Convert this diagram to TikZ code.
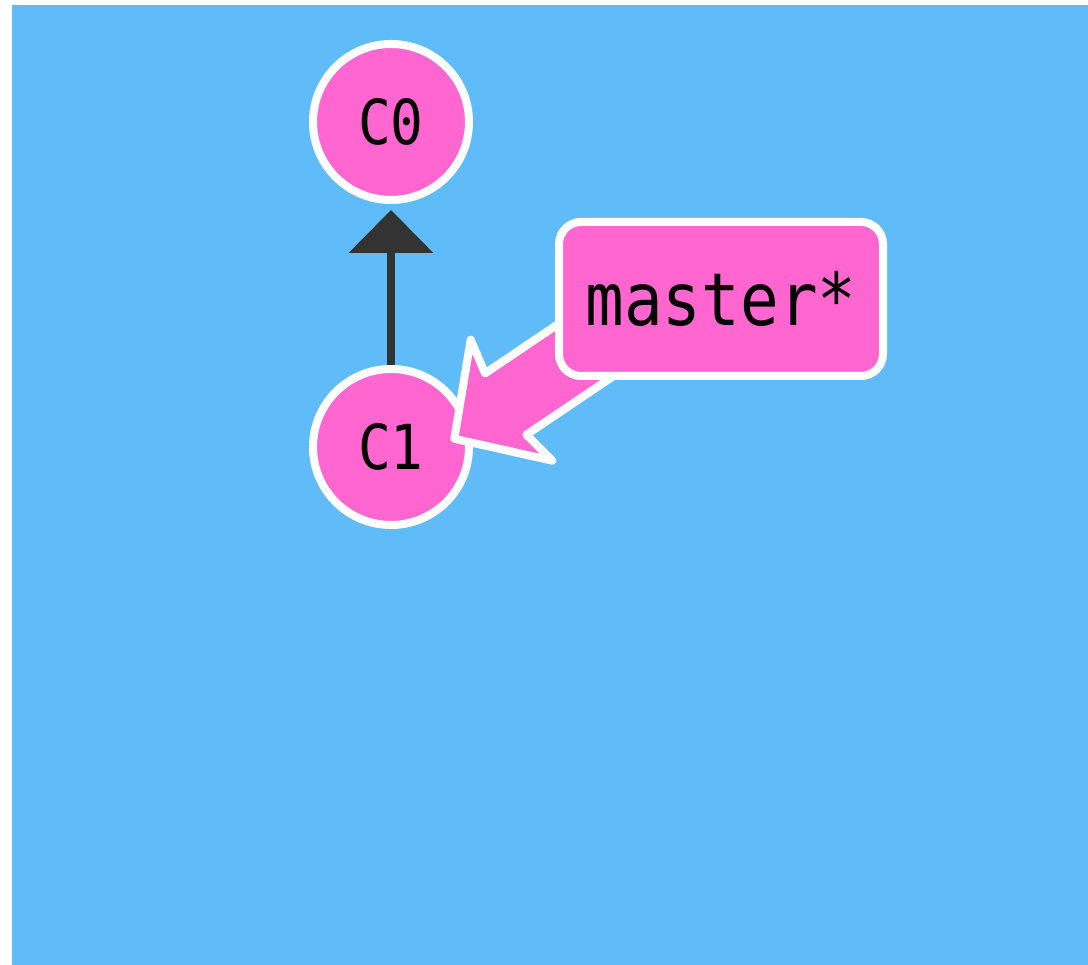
\documentclass[tikz,border=0pt]{standalone}
\usepackage{fontspec}
\usepackage{graphicx}
\newfontfamily\monof{DejaVu Sans Mono}
\usetikzlibrary{arrows.meta}
\definecolor{bgblue}{HTML}{60BCF9}
\definecolor{cpink}{HTML}{FF66D0}
\definecolor{darkarrow}{HTML}{333333}
\tikzset{
  commit/.style={circle, minimum size=156pt, inner sep=0pt, fill=cpink, draw=white, line width=8pt,
    font=\fontsize{62}{62}\selectfont\monof, text=black},
  branchbox/.style={rectangle, rounded corners=22pt, minimum width=324pt, minimum height=154pt, inner sep=0pt,
    fill=cpink, draw=white, line width=8pt, font=\fontsize{73}{73}\selectfont\monof, text=black},
  parentlink/.style={draw=darkarrow, line width=8pt, shorten >=6pt,
    -{Triangle[length=43pt,width=83pt]}},
  branchshape/.style={fill=cpink, draw=white, line width=8pt, line join=round},
}
\begin{document}
\begin{tikzpicture}[x=1pt,y=1pt]
\useasboundingbox (0,0) rectangle (1088,965);
\fill[white] (0,0) rectangle (1088,965);
\fill[bgblue] (12,0) rectangle (1088,960);
\node[commit] (c0) at (391,843) {\scalebox{0.88}[1]{C0}};
\node[commit] (c1) at (391,518) {\scalebox{0.88}[1]{C1}};
\draw[parentlink] (c1.north) -- (c0.south);
\coordinate (tip) at (451,524);
\begin{scope}[shift={(tip)}, rotate=34]
  \path[branchshape] (4,0) -- (73,73) -- (66,37) -- (320,37) -- (320,-37) -- (66,-37) -- (73,-73) -- cycle;
\end{scope}
\node[branchbox] (master) at (721,666) {\scalebox{0.88}[1]{master*}};
\end{tikzpicture}
\end{document}
